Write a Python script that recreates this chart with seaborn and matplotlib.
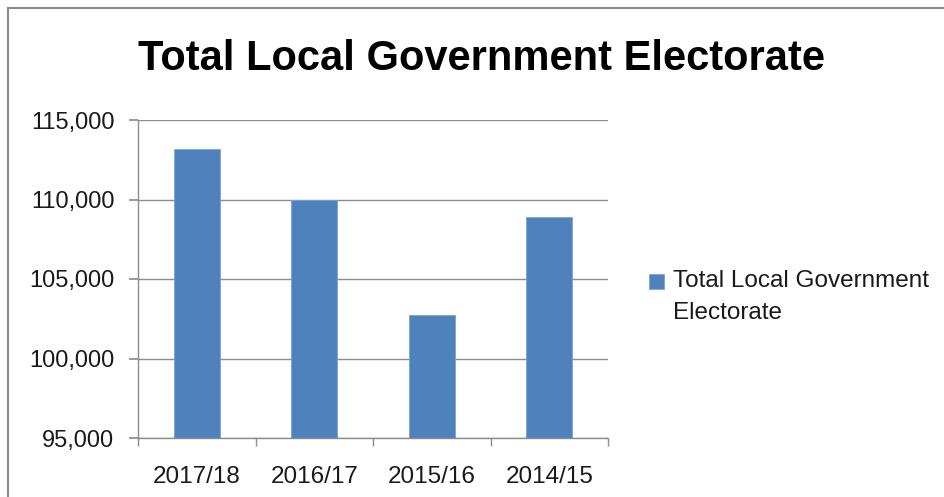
import matplotlib
matplotlib.use("Agg")
import matplotlib.pyplot as plt
import seaborn as sns
import pandas as pd
from matplotlib.ticker import FuncFormatter, FixedLocator
from matplotlib.patches import Rectangle

categories = ["2017/18", "2016/17", "2015/16", "2014/15"]
values = [113150, 110000, 102750, 108880]
series_name = "Total Local Government Electorate"
title = "Total Local Government Electorate"
yticks = [95000, 100000, 105000, 110000, 115000]

df = pd.DataFrame({"Year": categories, "Electorate": values})

sns.set_theme(style="white")
plt.rcParams["font.family"] = ["Liberation Sans", "DejaVu Sans"]

fig = plt.figure(figsize=(9.44, 4.97), dpi=100)
W, H = 944, 497
ax = fig.add_axes([138 / W, 1 - 438 / H, (608 - 138) / W, (438 - 120) / H])

sns.barplot(data=df, x="Year", y="Electorate", color="#4F81BD", width=0.39,
            ax=ax, saturation=1, edgecolor="#7FA3D2", linewidth=0.6,
            label=series_name)

ax.set_ylim(95000, 115000)
ax.set_xlim(-0.5, 3.5)
ax.set_yticks(yticks)
ax.yaxis.set_major_formatter(FuncFormatter(lambda v, p: f"{int(v):,}"))
ax.grid(axis="y", color="#8C8C8C", linewidth=1)
ax.set_axisbelow(True)
ax.set_xlabel("")
ax.set_ylabel("")

for s in ["top", "right"]:
    ax.spines[s].set_visible(False)
for s in ["left", "bottom"]:
    ax.spines[s].set_color("#8C8C8C")
    ax.spines[s].set_linewidth(1)

ax.tick_params(axis="y", which="major", left=True, length=6.5, color="#8C8C8C",
               labelsize=17, labelcolor="#1a1a1a", pad=10.5)
ax.tick_params(axis="x", which="major", bottom=False, labelsize=17.5,
               labelcolor="#1a1a1a", pad=14)
ax.xaxis.set_minor_locator(FixedLocator([-0.5, 0.5, 1.5, 2.5, 3.5]))
ax.tick_params(axis="x", which="minor", bottom=True, length=6, color="#8C8C8C",
               width=1)

fig.text(482 / W, 1 - 59 / H, title, ha="center", va="center",
         fontsize=30, fontweight="bold", color="black")

# legend
fig.patches.append(Rectangle((649 / W, 1 - 289 / H), 15 / W, 15 / H,
                             transform=fig.transFigure, facecolor="#4F81BD",
                             edgecolor="#7FA3D2", linewidth=0.6))
fig.text(673 / W, 1 - 281 / H, "Total Local Government", ha="left",
         va="center", fontsize=17.5, color="#1a1a1a")
fig.text(673 / W, 1 - 313 / H, "Electorate", ha="left", va="center",
         fontsize=17.5, color="#1a1a1a")
if ax.get_legend() is not None:
    ax.get_legend().remove()

# outer chart border
fig.patches.append(Rectangle((8 / W, -0.1), 1.2, 1 - 8 / H + 0.1,
                             transform=fig.transFigure, fill=False,
                             edgecolor="#8C8C8C", linewidth=1.5))

fig.savefig("out.png", dpi=100)
